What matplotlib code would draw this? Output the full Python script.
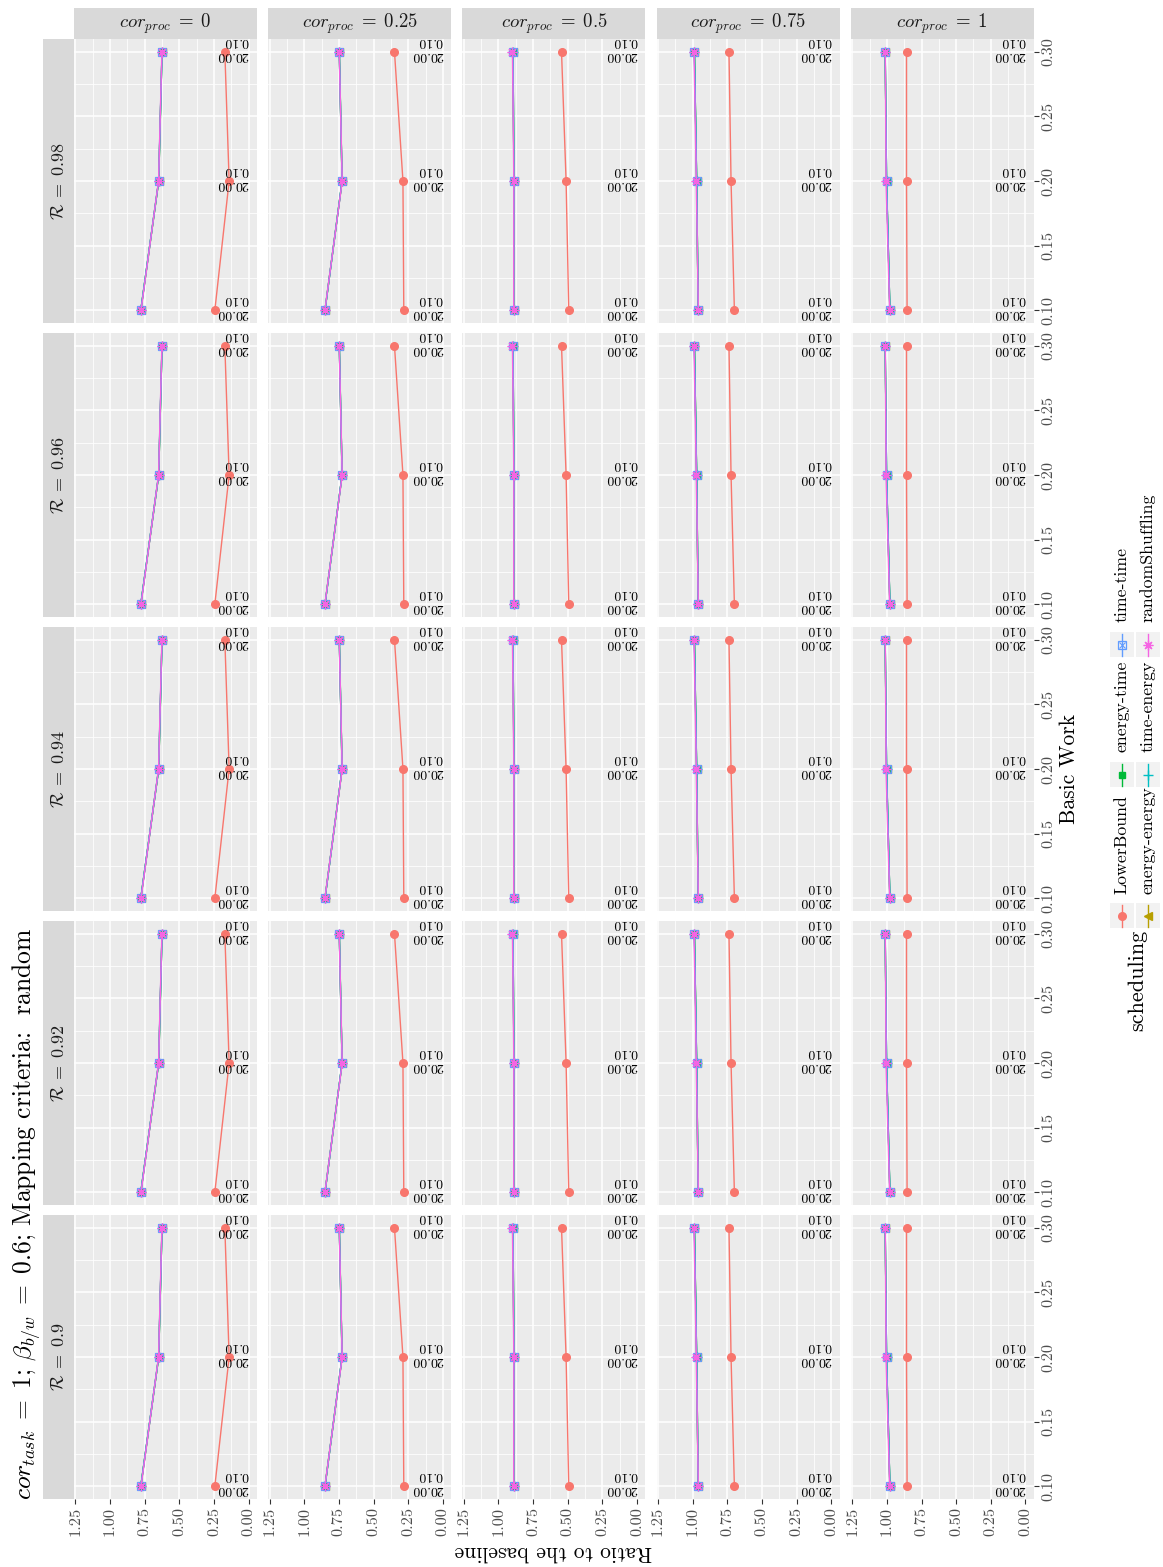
import matplotlib
matplotlib.use("Agg")
import matplotlib.pyplot as plt
import numpy as np

plt.rcParams['font.family'] = ['cmr10', 'DejaVu Serif']
plt.rcParams['mathtext.fontset'] = 'cm'
plt.rcParams['axes.formatter.use_mathtext'] = True

# facets
cor_proc = [0, 0.25, 0.5, 0.75, 1]
reliability = [0.98, 0.96, 0.94, 0.92, 0.9]  # top row first
basic_work = [0.10, 0.20, 0.30]

schedulers = ['LowerBound', 'energy-energy', 'energy-time',
              'time-energy', 'time-time', 'randomShuffling']
sched_colors = ['#F8766D', '#B79F00', '#00BA38', '#00BFC4', '#619CFF', '#F564E3']

# ratio to the baseline, one row per cor_proc, values at basic work 0.1, 0.2, 0.3
lower_bound = [
    [0.244, 0.141, 0.172],
    [0.282, 0.288, 0.349],
    [0.493, 0.512, 0.545],
    [0.699, 0.723, 0.738],
    [0.854, 0.858, 0.858],
]
energy_energy = [
    [0.778, 0.649, 0.625],
    [0.850, 0.727, 0.747],
    [0.890, 0.888, 0.895],
    [0.960, 0.971, 0.987],
    [0.978, 1.002, 1.012],
]
energy_time = [
    [0.778, 0.649, 0.625],
    [0.850, 0.727, 0.747],
    [0.890, 0.888, 0.895],
    [0.960, 0.971, 0.987],
    [0.978, 1.002, 1.012],
]
time_energy = [
    [0.778, 0.649, 0.625],
    [0.850, 0.727, 0.747],
    [0.890, 0.888, 0.895],
    [0.960, 0.971, 0.987],
    [0.978, 1.002, 1.012],
]
time_time = [
    [0.778, 0.650, 0.625],
    [0.850, 0.727, 0.747],
    [0.890, 0.888, 0.895],
    [0.960, 0.971, 0.988],
    [0.978, 1.002, 1.012],
]
random_shuffling = [
    [0.776, 0.650, 0.626],
    [0.851, 0.726, 0.748],
    [0.890, 0.889, 0.899],
    [0.959, 0.974, 0.990],
    [0.980, 1.006, 1.011],
]
series = [lower_bound, energy_energy, energy_time, time_energy, time_time, random_shuffling]
point_labels = ["20.00", "0.10"]

ratio_ticks = [0.0, 0.25, 0.5, 0.75, 1.0, 1.25]
work_ticks = [0.10, 0.15, 0.20, 0.25, 0.30]

W, H = 1163, 1567
fig = plt.figure(figsize=(W / 100, H / 100), dpi=100)


def box(l, t, w, h):
    return [l / W, 1 - (t + h) / H, w / W, h / H]


def draw_marker(ax, x, y, name, c, **kw):
    # ggplot shapes, turned a quarter like the rest of the figure
    if name == 'LowerBound':
        ax.plot(x, y, color=c, marker='o', ms=5.5, **kw)
    elif name == 'energy-energy':
        ax.plot(x, y, color=c, marker='<', ms=5.5, **kw)
    elif name == 'energy-time':
        ax.plot(x, y, color=c, marker='s', ms=5, **kw)
    elif name == 'time-energy':
        ax.plot(x, y, color=c, marker='+', ms=7, mew=1.0, **kw)
    elif name == 'time-time':
        ax.plot(x, y, color=c, marker='s', ms=5.5, mfc='none', mew=0.9, **kw)
        ax.plot(x, y, ls='none', color=c, marker='x', ms=4, mew=0.8)
    else:
        ax.plot(x, y, color=c, marker=(8, 2, 0), ms=7, mew=0.9, **kw)


col_left = [74 + i * 194.2 for i in range(5)]
row_top = [39 + j * 294 for j in range(5)]
pw, ph = 183, 284

for j, r in enumerate(reliability):
    for i, cp in enumerate(cor_proc):
        ax = fig.add_axes(box(col_left[i], row_top[j], pw, ph))
        ax.set_facecolor('#EBEBEB')
        for s in ax.spines.values():
            s.set_visible(False)
        ax.set_xlim(1.26, -0.06)
        ax.set_ylim(0.09, 0.31)
        ax.set_xticks(ratio_ticks)
        ax.set_xticks(np.arange(0.125, 1.25, 0.25), minor=True)
        ax.set_yticks(work_ticks)
        ax.set_yticks(np.arange(0.125, 0.3, 0.05), minor=True)
        ax.grid(which='major', color='white', lw=1.1)
        ax.grid(which='minor', color='white', lw=0.55)
        ax.set_axisbelow(True)
        ax.tick_params(which='minor', length=0)
        ax.tick_params(which='major', color='#333333', length=3.5, width=0.8,
                       labelcolor='#4D4D4D', labelsize=11.8, pad=2)
        ax.yaxis.tick_right()
        if j == len(reliability) - 1:
            ax.set_xticklabels([f"{t:.2f}" for t in ratio_ticks], rotation=90)
        else:
            ax.tick_params(axis='x', length=0, labelbottom=False)
        if i == len(cor_proc) - 1:
            ax.set_yticklabels([f"{t:.2f}" for t in work_ticks], rotation=90, va='center')
        else:
            ax.tick_params(axis='y', length=0, labelright=False)

        for k, name in enumerate(schedulers):
            draw_marker(ax, series[k][i], basic_work, name, sched_colors[k], lw=1.0)

        for bw in basic_work:
            ax.text(0.0, bw + 0.003, "\n".join(point_labels), rotation=180,
                    rotation_mode='anchor', ha='left', va='center',
                    fontsize=10, color='black', linespacing=1.15)

        # strips
        if j == 0:
            sax = fig.add_axes(box(col_left[i], 8, pw, 31))
            sax.set_facecolor('#D9D9D9')
            sax.set_xticks([]); sax.set_yticks([])
            for s in sax.spines.values():
                s.set_visible(False)
            sax.text(0.5, 0.5, rf"$cor_{{proc}}\;=\;{cp:g}$", ha='center', va='center',
                     fontsize=13.5, color='#1A1A1A', transform=sax.transAxes)
        if i == 0:
            sax = fig.add_axes(box(43, row_top[j], 31, ph))
            sax.set_facecolor('#D9D9D9')
            sax.set_xticks([]); sax.set_yticks([])
            for s in sax.spines.values():
                s.set_visible(False)
            sax.text(0.5, 0.5, rf"$\mathcal{{R}}\;=\;{r:g}$", ha='center', va='center',
                     rotation=90, fontsize=13, color='#1A1A1A', transform=sax.transAxes)

# titles
fig.text(27 / W, 1 - 1500 / H,
         r"$cor_{task}\;=\;1$; $\beta_{b/w}\;=\;0.6$; Mapping criteria:  random",
         rotation=90, ha='center', va='bottom', fontsize=18.4)
fig.text(553 / W, 1 - 1552 / H, "Ratio to the baseline", rotation=180,
         ha='center', va='center', fontsize=15.5)
fig.text(1069 / W, 1 - 769 / H, "Basic Work", rotation=90,
         ha='center', va='center', fontsize=15.5)

# legend drawn by hand in pixel coordinates (rotated layout)
lg = fig.add_axes([0, 0, 1, 1], facecolor='none')
lg.set_xlim(0, W)
lg.set_ylim(H, 0)
lg.axis('off')
key_cols = [1122, 1148]
key_rows = [915.5, 774.5, 644.5]
order = [(0, 0), (1, 0), (0, 1), (1, 1), (0, 2), (1, 2)]  # (col, row) for each scheduler
for k, name in enumerate(schedulers):
    cx = key_cols[order[k][0]]
    cy = key_rows[order[k][1]]
    c = sched_colors[k]
    lg.add_patch(plt.Rectangle((cx - 12, cy - 12.5), 24, 25, color='#F2F2F2', lw=0))
    lg.plot([cx, cx], [cy - 11, cy + 11], color=c, lw=1.0)
    draw_marker(lg, [cx], [cy], name, c)
    lg.text(cx, cy - 22, name, rotation=90, ha='center', va='bottom', fontsize=12.8)
lg.text(1137, 930, "scheduling", rotation=90, ha='center', va='top', fontsize=16)

fig.savefig("out.png", dpi=100)
